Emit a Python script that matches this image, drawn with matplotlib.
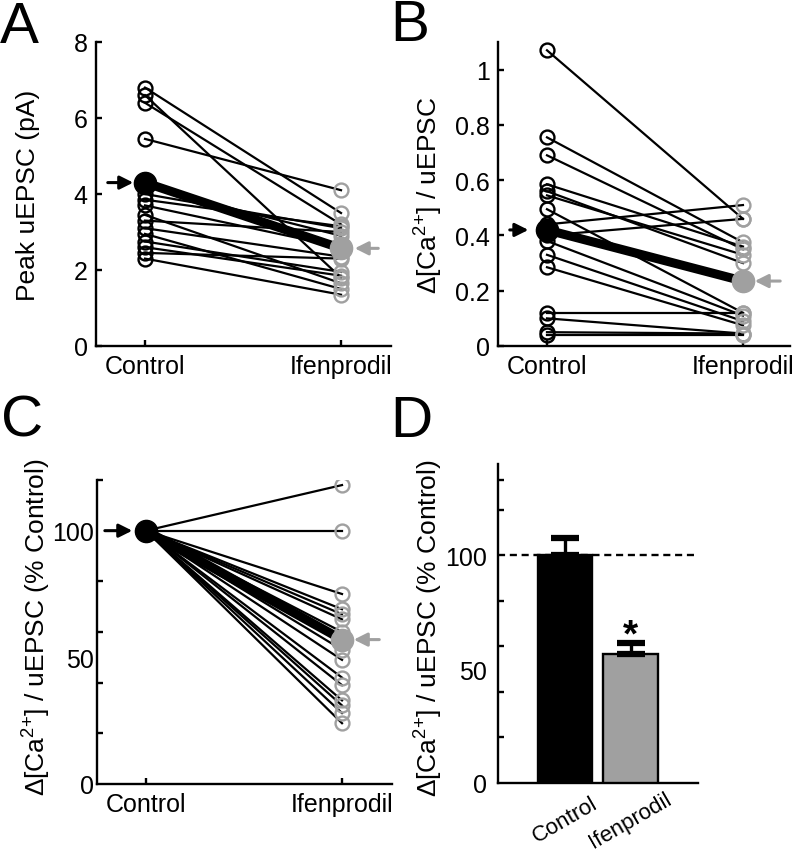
import matplotlib
matplotlib.use("Agg")
import matplotlib.pyplot as plt
import matplotlib.transforms as mtransforms

plt.rcParams['font.family'] = ['Liberation Sans', 'DejaVu Sans']
plt.rcParams['mathtext.fontset'] = 'custom'
plt.rcParams['mathtext.rm'] = 'Liberation Sans'
plt.rcParams['mathtext.it'] = 'Liberation Sans'

# ---------------- data ----------------
conditions = ["Control", "Ifenprodil"]

# Panel A: peak uEPSC (pA)
a_control = [6.8, 6.6, 6.4, 5.45, 4.0, 3.85, 3.7, 3.45, 3.3, 3.1, 2.95, 2.75, 2.6, 2.45, 2.3, 4.2]
a_ifen    = [3.5, 1.8, 3.2, 4.1, 3.1, 3.15, 2.6, 1.65, 3.0, 2.35, 1.5, 1.95, 1.85, 2.3, 1.35, 2.9]
a_mean = [4.3, 2.57]

# Panel B: dCa / uEPSC
b_control = [1.07, 0.755, 0.69, 0.585, 0.56, 0.545, 0.495, 0.44, 0.40, 0.38, 0.33, 0.285, 0.12, 0.10, 0.05, 0.04]
b_ifen    = [0.46, 0.375, 0.35, 0.36, 0.30, 0.33, 0.12, 0.51, 0.46, 0.11, 0.09, 0.075, 0.12, 0.045, 0.045, 0.04]
b_mean = [0.42, 0.235]

# Panel C: % control
c_control = [100] * 16
c_ifen = [118, 100, 75, 69, 67, 65, 60, 56, 53, 49, 42, 39, 33, 31, 28, 24]
c_mean = [100, 57]

# Panel D: bar means and SEM
d_means = [100, 56.5]
d_sem = [7.6, 4.8]

BLACK = 'black'
GRAY = '#a0a0a0'
XFS = 18      # category labels
YTFS = 18     # y tick labels
LFS = 19      # axis labels
CA_LABEL = 'Δ[Ca$^{2{+}}$] / uEPSC'

fig = plt.figure(figsize=(7.94, 8.53), dpi=100)
W, H = 794, 853

def axes_px(left, top, right, bottom):
    return fig.add_axes([left / W, 1 - bottom / H, (right - left) / W, (bottom - top) / H])

def style(ax):
    for s in ['top', 'right']:
        ax.spines[s].set_visible(False)
    for s in ['left', 'bottom']:
        ax.spines[s].set_linewidth(1.7)
    ax.tick_params(direction='in', length=4, width=1.7, pad=6)
    ax.tick_params(axis='y', labelsize=YTFS)
    ax.tick_params(axis='x', labelsize=XFS)
    ax.tick_params(which='minor', direction='in', length=4, width=1.7)

def paired(ax, ctrl, ifen, mean, ylim, arrows):
    x = [1, 2]
    for c, f in zip(ctrl, ifen):
        ax.plot(x, [c, f], color=BLACK, lw=1.6, zorder=2)
    ax.plot(x, mean, color=BLACK, lw=6.5, zorder=3)
    ax.plot([1] * len(ctrl), ctrl, 'o', ms=10, mfc='none', mec=BLACK, mew=1.7, zorder=4)
    ax.plot([2] * len(ifen), ifen, 'o', ms=10, mfc='none', mec=GRAY, mew=1.7, zorder=4)
    ax.plot([1], [mean[0]], 'o', ms=16, color=BLACK, zorder=5)
    ax.plot([2], [mean[1]], 'o', ms=16, color=GRAY, zorder=5)
    (bt, bh), (gt, gh) = arrows
    ax.annotate('', xy=(bh, mean[0]), xytext=(bt, mean[0]),
                arrowprops=dict(arrowstyle='-|>', color=BLACK, lw=2.2, mutation_scale=20,
                                shrinkA=0, shrinkB=0), zorder=6)
    ax.annotate('', xy=(gh, mean[1]), xytext=(gt, mean[1]),
                arrowprops=dict(arrowstyle='-|>', color=GRAY, lw=2.2, mutation_scale=20,
                                shrinkA=0, shrinkB=0), zorder=6)
    ax.set_xticks(x)
    ax.set_xticklabels(conditions)
    ax.set_ylim(*ylim)
    style(ax)

# Panel A
axA = axes_px(96, 43, 391, 347)
paired(axA, a_control, a_ifen, a_mean, (0, 8), ((0.81, 0.94), (2.19, 2.07)))
axA.set_xlim(0.75, 2.255)
axA.set_yticks([0, 2, 4, 6, 8])
axA.set_ylabel('Peak uEPSC (pA)', fontsize=LFS)
axA.yaxis.set_label_coords(-0.19, 0.5)

# Panel B
axB = axes_px(498, 43, 790, 347)
paired(axB, b_control, b_ifen, b_mean, (0, 1.1), ((0.81, 0.905), (2.19, 2.06)))
axB.set_xlim(0.75, 2.24)
axB.set_yticks([0, 0.2, 0.4, 0.6, 0.8, 1.0])
axB.set_yticklabels(['0', '0.2', '0.4', '0.6', '0.8', '1'])
axB.set_ylabel(CA_LABEL, fontsize=LFS)
axB.yaxis.set_label_coords(-0.18, 0.5)

# Panel C
axC = axes_px(97, 481, 392, 785)
paired(axC, c_control, c_ifen, c_mean, (0, 120), ((0.79, 0.93), (2.19, 2.06)))
axC.set_xlim(0.75, 2.255)
axC.set_yticks([0, 50, 100])
axC.set_yticks([20, 40, 60, 80, 120], minor=True)
axC.tick_params(axis='y', which='major', length=0, pad=2)
axC.set_ylabel(CA_LABEL + ' (% Control)', fontsize=LFS)
axC.yaxis.set_label_coords(-0.149, 0.52)

# Panel D
axD = axes_px(498, 465, 698, 784)
xb = [1, 2]
axD.bar(xb, d_means, width=0.83, color=[BLACK, GRAY], edgecolor=BLACK, linewidth=1.7, zorder=3)
axD.errorbar(xb, d_means, yerr=[[0, 0], d_sem], fmt='none', ecolor=BLACK,
             elinewidth=2.4, capsize=10, capthick=4.5, zorder=4)
axD.axhline(100, color=BLACK, lw=1.7, ls=(0, (3, 2)), zorder=2)
axD.text(2, d_means[1] + d_sem[1] - 4.5, '*', fontsize=28, fontweight='bold',
         ha='center', va='bottom')
axD.set_xlim(-0.023, 3.03)
axD.set_ylim(0, 140)
axD.set_xticks(xb)
axD.set_xticklabels([])
trans = mtransforms.blended_transform_factory(axD.transData, axD.transAxes)
for xi, name in zip(xb, conditions):
    axD.text(xi, -0.115, name, transform=trans, rotation=30, rotation_mode='anchor',
             ha='center', va='center', fontsize=16)
axD.set_yticks([0, 50, 100])
axD.set_yticks([20, 40, 60, 80, 120, 133], minor=True)
style(axD)
axD.tick_params(axis='x', length=0)
axD.tick_params(axis='y', which='major', length=0, pad=8)
axD.set_ylabel(CA_LABEL + ' (% Control)', fontsize=LFS)
axD.yaxis.set_label_coords(-0.265, 0.49)

# Panel letters
for letter, px, py in [('A', 0, 43), ('B', 390, 41), ('C', 1, 437), ('D', 390, 437)]:
    fig.text(px / W, 1 - py / H, letter, fontsize=42, ha='left', va='baseline')

fig.savefig('out.png', dpi=100)
